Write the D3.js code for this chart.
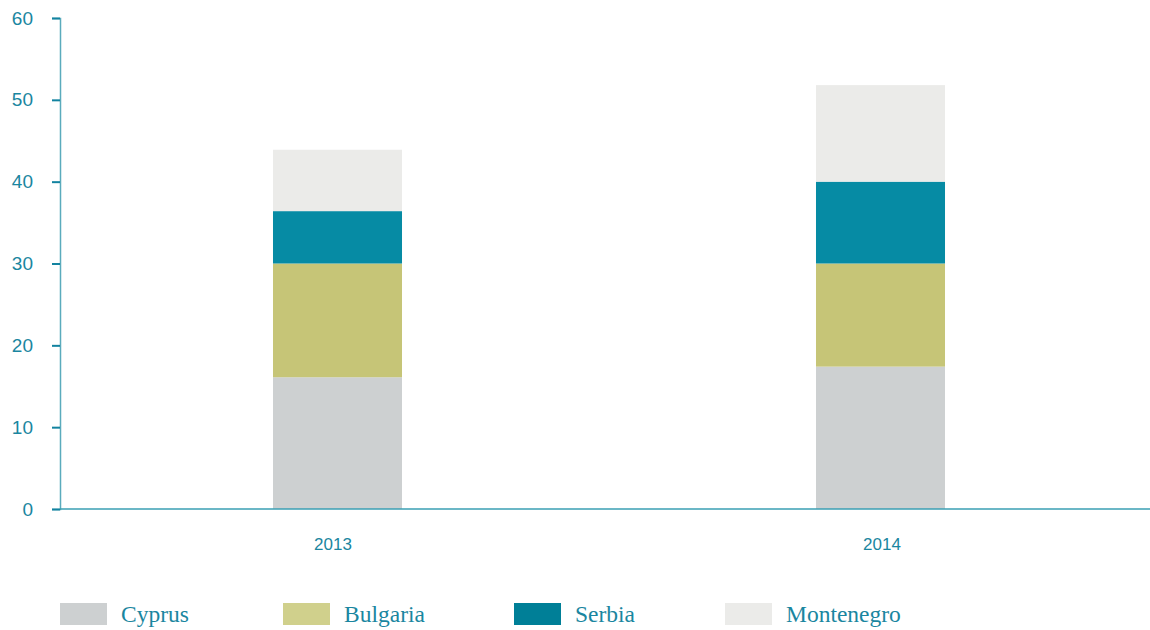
<!DOCTYPE html>
<html>
<head>
<meta charset="utf-8">
<script src="https://cdn.jsdelivr.net/npm/d3@7"></script>
<style>
  html, body { margin: 0; padding: 0; background: #ffffff; }
  svg { display: block; }
</style>
</head>
<body>
<svg id="chart" width="1150" height="630"></svg>
<script>
// Stacked shares by country, per year
const years = ["2013", "2014"];
const countries = ["Cyprus", "Bulgaria", "Serbia", "Montenegro"];
const cyprus = [16.1, 17.4];
const bulgaria = [13.9, 12.6];
const serbia = [6.4, 10.0];
const montenegro = [7.5, 11.8];
const yTicks = [0, 10, 20, 30, 40, 50, 60];

const colors = {
  Cyprus: "#cdd0d1",
  Bulgaria: "#c6c577",
  Serbia: "#068ba4",
  Montenegro: "#ebebe9"
};
const legendColors = {
  Cyprus: "#cdd0d1",
  Bulgaria: "#d0d08c",
  Serbia: "#007f97",
  Montenegro: "#ebebe9"
};

const seriesValues = { Cyprus: cyprus, Bulgaria: bulgaria, Serbia: serbia, Montenegro: montenegro };
const rows = years.map((yr, i) => {
  const r = { year: yr };
  countries.forEach(c => r[c] = seriesValues[c][i]);
  return r;
});
const stacked = d3.stack().keys(countries)(rows);

const svg = d3.select("#chart");
const textColor = "#1a86a0";

const y = d3.scaleLinear().domain([0, 60]).range([509, 18]);
const x = d3.scaleBand().domain(years).range([66, 1152]).padding(0);
const xLabel = d3.scaleBand().domain(years).range([58.5, 1156.5]).padding(0);
const barW = x.bandwidth() * 0.2376;

// Bars
svg.append("g").selectAll("g")
  .data(stacked)
  .join("g")
  .attr("fill", d => colors[d.key])
  .selectAll("rect")
  .data(d => d)
  .join("rect")
  .attr("x", d => x(d.data.year) + x.bandwidth() / 2 - barW / 2)
  .attr("width", barW)
  .attr("y", d => y(d[1]))
  .attr("height", d => y(d[0]) - y(d[1]));

// Y axis
const yAxis = svg.append("g")
  .attr("transform", "translate(60,0)")
  .call(d3.axisLeft(y).tickValues(yTicks).tickSize(8).tickPadding(19));
yAxis.select(".domain").attr("stroke", "#5aabbd").attr("stroke-width", 1.5);
yAxis.selectAll(".tick line").attr("stroke", "#1283a0").attr("stroke-width", 2);
yAxis.selectAll(".tick text")
  .attr("fill", textColor)
  .attr("font-family", "'Liberation Sans', Arial, sans-serif")
  .attr("font-size", 19);

// X axis
svg.append("line")
  .attr("x1", 60).attr("x2", 1150)
  .attr("y1", y(0)).attr("y2", y(0))
  .attr("stroke", "#3a9fb3").attr("stroke-width", 1.5);

svg.append("g").selectAll("text")
  .data(years)
  .join("text")
  .attr("x", d => xLabel(d) + xLabel.bandwidth() / 2)
  .attr("y", 550)
  .attr("text-anchor", "middle")
  .attr("fill", textColor)
  .attr("font-family", "'Liberation Sans', Arial, sans-serif")
  .attr("font-size", 17)
  .text(d => d);

// Legend
const legendX = [60, 283, 514, 725];
const legend = svg.append("g").selectAll("g")
  .data(countries)
  .join("g")
  .attr("transform", (d, i) => `translate(${legendX[i]},603)`);
legend.append("rect")
  .attr("width", 47).attr("height", 22)
  .attr("fill", d => legendColors[d]);
legend.append("text")
  .attr("x", 61).attr("y", 19)
  .attr("fill", textColor)
  .attr("font-family", "'Liberation Serif', 'Times New Roman', serif")
  .attr("font-size", 23.5)
  .text(d => d);
</script>
</body>
</html>
